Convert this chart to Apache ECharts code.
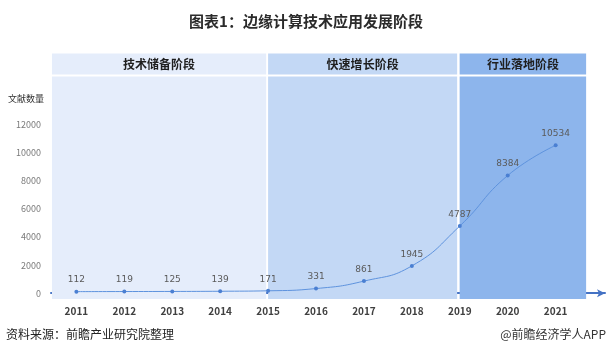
<!DOCTYPE html>
<html><head><meta charset="utf-8">
<script src="https://cdn.jsdelivr.net/npm/echarts@6/dist/echarts.min.js"></script>
<style>html,body{margin:0;padding:0;background:#fff}#c{width:612px;height:358px}</style>
</head><body><div id="c"></div>
<script>
const years = [2011,2012,2013,2014,2015,2016,2017,2018,2019,2020,2021];
const papers = [112,119,125,139,171,331,861,1945,4787,8384,10534];
const yTicks = [0,2000,4000,6000,8000,10000,12000];
const stageNames = ['技术储备阶段','快速增长阶段','行业落地阶段'];
const stageRanges = [[2010.49,2014.96],[2015.0,2018.945],[2018.997,2021.636]];
const stageColors = ['#e5edfb','#c3d8f5','#8db5ec'];
const titleText = '图表1：边缘计算技术应用发展阶段';
const yName = '文献数量';
const sourceText = '资料来源：前瞻产业研究院整理';
const brandText = '@前瞻经济学人APP';

const FONT = '"Noto Sans CJK SC","Noto Sans",sans-serif';
const HEAD_LO = 15577, HEAD_HI = 17073, BODY_LO = -413, BODY_HI = 15435;

const areaData = [];
stageRanges.forEach((r, i) => {
  areaData.push([{xAxis: r[0], yAxis: BODY_LO, itemStyle:{color: stageColors[i]}}, {xAxis: r[1], yAxis: BODY_HI}]);
  areaData.push([{xAxis: r[0], yAxis: HEAD_LO, name: stageNames[i], itemStyle:{color: stageColors[i]},
     label:{show:true, position:'inside', formatter:'{b}', color:'#1f1f1f', fontSize:12, fontWeight:'bold', fontFamily:FONT}},
     {xAxis: r[1], yAxis: HEAD_HI}]);
});

const chart = echarts.init(document.getElementById('c'), null, {renderer:'canvas'});
chart.setOption({
  animation:false,
  backgroundColor:'#fff',
  title:{text:titleText, left:'center', top:9, textStyle:{fontSize:15, fontWeight:'bold', color:'#2b2b2b', fontFamily:FONT}},
  grid:{left:51, right:7, top:53.5, bottom:59},
  xAxis:{type:'value', min:2010.47, max:2022.03,
    axisLine:{show:true, lineStyle:{color:'#4472c4', width:2}, symbol:['none','arrow'], symbolSize:[6,8]},
    axisTick:{show:false}, splitLine:{show:false},
    axisLabel:{customValues:years, formatter:v=>String(Math.round(v)), color:'#404040', fontSize:10, fontWeight:'bold', margin:7, fontFamily:FONT}},
  yAxis:{type:'value', min:BODY_LO, max:HEAD_HI,
    axisLine:{show:false}, axisTick:{show:false}, splitLine:{show:false},
    axisLabel:{customValues:yTicks, formatter:v=>String(Math.round(v)), color:'#7a7a7a', fontSize:9, margin:10, fontFamily:FONT}},
  graphic:[
    {type:'text', left:8, top:94, style:{text:yName, fill:'#333', font:'9px '+FONT}},
    {type:'text', left:6, top:328, style:{text:sourceText, fill:'#222', font:'12px '+FONT}},
    {type:'text', right:6, top:328, style:{text:brandText, fill:'#333', font:'12px '+FONT}}
  ],
  series:[
    {type:'line', data:[], z:1, markArea:{silent:true, data:areaData}},
    {type:'line', z:5, smooth:true, data: years.map((y,i)=>[y, papers[i]]),
     symbol:'circle', symbolSize:4,
     lineStyle:{color:'#5e93de', width:1},
     itemStyle:{color:'#4a7fd2'},
     label:{show:true, position:'top', distance:5, color:'#5a5a5a', fontSize:9, fontFamily:'"DejaVu Sans",sans-serif'}}
  ]
});
</script></body></html>
